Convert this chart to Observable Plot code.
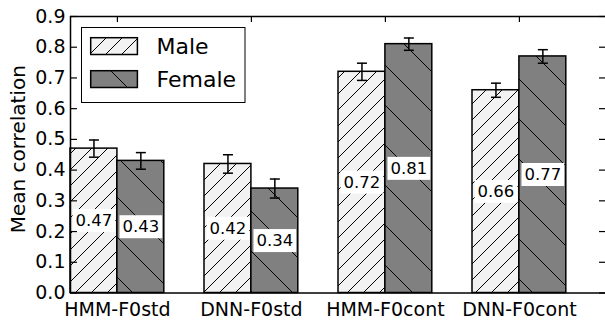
<!DOCTYPE html>
<html>
<head>
<meta charset="utf-8">
<script src="https://cdn.jsdelivr.net/npm/d3@7"></script>
<script src="https://cdn.jsdelivr.net/npm/@observablehq/plot@0.6"></script>
<style>
  html, body { margin: 0; padding: 0; background: #fff; overflow: hidden; }
  #chart { position: relative; width: 605px; height: 320px; overflow: hidden; }
  svg { font-family: "DejaVu Sans", sans-serif; }
</style>
</head>
<body>
<div id="chart"></div>
<script>
// ---- data ----
const categories = ["HMM-F0std", "DNN-F0std", "HMM-F0cont", "DNN-F0cont"];
const seriesNames = ["Male", "Female"];
const maleValues = [0.47, 0.42, 0.72, 0.66];
const femaleValues = [0.43, 0.34, 0.81, 0.77];
const maleErrors = [0.028, 0.03, 0.028, 0.023];
const femaleErrors = [0.027, 0.031, 0.02, 0.022];
const yTicks = [0.0, 0.1, 0.2, 0.3, 0.4, 0.5, 0.6, 0.7, 0.8, 0.9];
const yLabel = "Mean correlation";

// ---- layout (matplotlib-like: bars of width 0.35 starting at integer positions) ----
const barWidth = 0.35;
const rows = [];
categories.forEach((c, i) => {
  rows.push({cat: c, series: "Male", x1: i, x2: i + barWidth, value: maleValues[i], err: maleErrors[i]});
  rows.push({cat: c, series: "Female", x1: i + barWidth, x2: i + 2 * barWidth, value: femaleValues[i], err: femaleErrors[i]});
});
rows.forEach(d => { d.xc = (d.x1 + d.x2) / 2; d.label = d.value.toFixed(2); });
const groupTicks = categories.map((c, i) => i + barWidth);
const fillFor = {Male: "url(#hatchMale)", Female: "url(#hatchFemale)"};

const capSymbol = {
  draw(context, size) {
    const r = Math.sqrt(size / Math.PI);
    context.moveTo(-r, 0);
    context.lineTo(r, 0);
  }
};

const errRows = rows.flatMap(d => [
  {xc: d.xc, y: d.value - d.err},
  {xc: d.xc, y: d.value + d.err}
]);

const svg = Plot.plot({
  width: 605,
  height: 320,
  marginLeft: 70,
  marginRight: 0,
  marginTop: 16,
  marginBottom: 27.5,
  style: {fontFamily: "DejaVu Sans, sans-serif", background: "white", overflow: "hidden"},
  x: {domain: [0, categories.length], range: [70, 606]},
  y: {domain: [0, 0.9]},
  marks: [
    Plot.rectY(rows.filter(d => d.series === "Male"), {x1: "x1", x2: "x2", y: "value", fill: fillFor.Male, stroke: "black", strokeWidth: 1.5}),
    Plot.rectY(rows.filter(d => d.series === "Female"), {x1: "x1", x2: "x2", y: "value", fill: fillFor.Female, stroke: "black", strokeWidth: 1.5}),
    Plot.ruleX(rows, {x: "xc", y1: d => d.value - d.err, y2: d => d.value + d.err, stroke: "black", strokeWidth: 1.5}),
    Plot.dot(errRows, {x: "xc", y: "y", r: 5, symbol: capSymbol, stroke: "black", strokeWidth: 1.5, fill: "none"}),
    Plot.text(rows, {x: "xc", y: d => d.value / 2, text: "label", fontSize: 16.5, fill: "black", textAnchor: "middle"}),
    Plot.ruleY([0, 0.9], {stroke: "black", strokeWidth: 1.5}),
    Plot.ruleX([0], {stroke: "black", strokeWidth: 1.5}),
    Plot.axisY({ticks: yTicks, tickFormat: d3.format(".1f"), tickSize: -7, tickPadding: 12, fontSize: 19, label: null, strokeWidth: 1.2, color: "black"}),
    Plot.axisY({anchor: "right", ticks: yTicks, tickSize: -7, tickFormat: () => "", label: null, strokeWidth: 1.2, color: "black"}),
    Plot.axisX({anchor: "top", ticks: groupTicks, tickSize: -5, tickFormat: () => "", label: null, strokeWidth: 1.2, color: "black"}),
    Plot.axisX({anchor: "bottom", ticks: groupTicks, tickSize: 0, tickPadding: 9, fontSize: 19, label: null, color: "black",
      tickFormat: v => categories[Math.round(v - barWidth)]}),
    Plot.text([yLabel], {frameAnchor: "left", textAnchor: "middle", lineAnchor: "middle", rotate: -90, dx: -51.5, dy: -5.5, fontSize: 20, fill: "black"})
  ]
});

// hatch patterns (absolute coordinates like matplotlib hatches)
const root = d3.select(svg);
const defs = root.insert("defs", ":first-child");
function hatch(id, bg, size, dir) {
  const p = defs.append("pattern").attr("id", id).attr("patternUnits", "userSpaceOnUse")
    .attr("width", size).attr("height", size);
  p.append("rect").attr("width", size).attr("height", size).attr("fill", bg);
  const s = size;
  const d = dir === "/"
    ? `M0,${s} L${s},0 M${-s/4},${s/4} L${s/4},${-s/4} M${3*s/4},${5*s/4} L${5*s/4},${3*s/4}`
    : `M0,0 L${s},${s} M${-s/4},${3*s/4} L${s/4},${5*s/4} M${3*s/4},${-s/4} L${5*s/4},${s/4}`;
  p.append("path").attr("d", d).attr("stroke", "black").attr("stroke-width", 1).attr("fill", "none");
}
hatch("hatchMale", "#f2f2f2", 16, "/");
hatch("hatchFemale", "#808080", 40, "\\");

document.getElementById("chart").appendChild(svg);

// white boxes behind value labels
const labelSet = new Set(rows.map(d => d.label));
root.selectAll("text").filter(function() { return labelSet.has(this.textContent); }).each(function() {
  const bb = this.getBBox();
  const padX = 3, padY = 2;
  const t = this.getAttribute("transform");
  const r = document.createElementNS("http://www.w3.org/2000/svg", "rect");
  if (t) r.setAttribute("transform", t);
  r.setAttribute("x", bb.x - padX);
  r.setAttribute("y", bb.y - padY);
  r.setAttribute("width", bb.width + 2 * padX);
  r.setAttribute("height", bb.height + 2 * padY);
  r.setAttribute("fill", "white");
  r.setAttribute("stroke", "none");
  this.parentNode.insertBefore(r, this);
});

// legend (inside the axes, upper left)
const lg = root.append("g").attr("font-family", "DejaVu Sans, sans-serif").attr("text-anchor", "start");
lg.append("rect").attr("x", 81.5).attr("y", 27.5).attr("width", 163.5).attr("height", 75)
  .attr("fill", "white").attr("stroke", "black").attr("stroke-width", 1);
seriesNames.forEach((name, i) => {
  const y0 = 37.7 + i * 33;
  lg.append("rect").attr("x", 90.7).attr("y", y0).attr("width", 46.7).attr("height", 16.8)
    .attr("fill", fillFor[name]).attr("stroke", "black").attr("stroke-width", 1.5);
  lg.append("text").attr("x", 156.5).attr("y", y0 + 16.6).attr("font-size", 22).attr("fill", "black").text(name);
});
</script>
</body>
</html>
